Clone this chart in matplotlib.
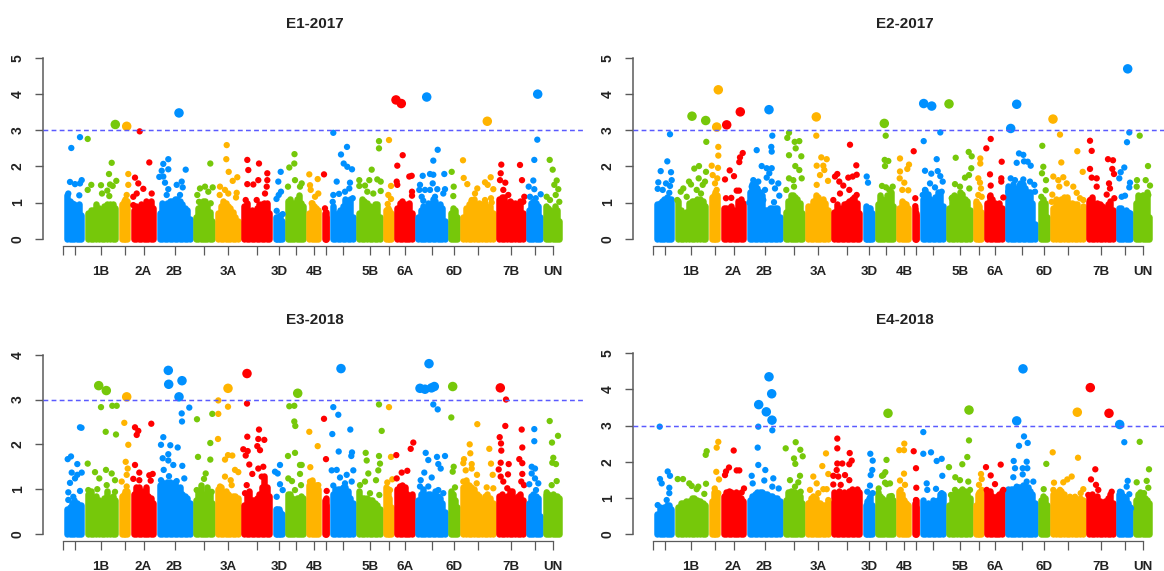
import numpy as np
import matplotlib
matplotlib.use("Agg")
import matplotlib.pyplot as plt

plt.rcParams['font.family'] = ['Liberation Sans', 'DejaVu Sans']

W, H = 1164, 571
COLORS = ['#0090FF', '#76C80A', '#FFB400', '#FF0000']

CHROM_EDGES = [64, 84.5, 118.5, 130.5, 156.5, 193, 215, 241, 272.5, 285, 306, 321.5,
               329.5, 356, 383, 394, 415, 448, 460, 496, 526, 543, 562]
TICK_POS = [62.5, 74.5, 101, 125, 143.5, 174.5, 204, 228, 257, 279, 295.5, 314, 325.5,
            342.5, 370, 389, 405, 432, 454, 478, 511, 535, 552.7]
TICK_LABELS = ['', '', '1B', '', '2A', '2B', '', '3A', '', '3D', '', '4B', '',
               '', '5B', '', '6A', '', '6D', '', '7B', '', 'UN']

E1_profile = [
    [1.2, 1.05, 1.0, 0.95, 0.85, 0.95, 0.65],
    [0.7, 0.8, 0.8, 0.95, 0.85, 0.8, 0.9, 0.95, 0.95, 0.95, 0.85],
    [0.95, 1.05, 1.1, 1.05],
    [0.8, 0.9, 0.8, 0.95, 0.9, 1.05, 0.9, 1.05, 0.85],
    [0.7, 1.0, 0.9, 1.0, 1.05, 1.05, 1.1, 1.1, 1.05, 0.95, 0.85, 0.8, 0.55],
    [0.6, 0.85, 1.0, 1.05, 1.05, 0.9, 0.75, 0.5],
    [0.7, 0.9, 1.05, 1.0, 0.9, 0.85, 0.75, 0.6, 0.5],
    [0.9, 1.0, 0.75, 0.8, 0.75, 0.85, 0.95, 0.95, 1.0, 1.0, 0.7],
    [0.6, 0.6, 0.6, 0.65, 0.5],
    [1.05, 1.1, 1.0, 1.0, 1.1, 1.2, 1.0, 0.9],
    [0.7, 1.0, 0.9, 0.85, 0.8],
    [0.7, 0.75, 0.6],
    [0.9, 0.65, 0.7, 0.8, 0.9, 1.1, 1.0, 1.1, 0.6],
    [0.7, 1.1, 1.05, 1.0, 0.9, 0.85, 0.95, 0.95, 0.6],
    [0.8, 0.85, 0.8, 0.7],
    [0.85, 1.0, 1.05, 0.95, 0.9, 1.0, 0.7],
    [0.6, 0.8, 0.9, 0.85, 1.0, 0.95, 1.1, 1.05, 0.9, 0.95, 0.85, 0.5],
    [0.7, 0.85, 0.8, 0.6],
    [0.6, 0.85, 0.95, 1.05, 1.1, 0.9, 1.0, 0.95, 1.0, 0.85, 0.9, 0.7],
    [1.1, 1.15, 1.15, 1.0, 1.05, 1.0, 1.0, 0.95, 1.05, 0.7],
    [0.8, 1.0, 1.05, 1.0, 0.9, 0.6],
    [0.9, 0.85, 0.8, 0.75, 0.9, 0.8, 0.5],
]
E2_profile = [
    [0.95, 1.0, 1.05, 1.1, 1.15, 1.1, 1.1],
    [1.05, 0.8, 0.7, 0.75, 1.0, 1.05, 1.05, 1.1, 1.1, 1.05, 0.9],
    [1.15, 1.2, 1.3, 1.2],
    [0.85, 0.85, 0.85, 0.9, 0.8, 0.75, 1.05, 1.1, 1.0],
    [1.3, 1.5, 1.5, 1.4, 1.3, 1.2, 0.8, 0.8, 0.85, 0.85, 0.85, 0.85, 0.6],
    [0.75, 1.05, 1.2, 1.2, 1.15, 1.1, 1.0, 0.7],
    [0.9, 0.9, 1.05, 1.2, 1.15, 1.05, 1.1, 1.0, 0.8],
    [0.75, 0.95, 0.85, 0.85, 0.95, 1.0, 1.05, 1.1, 1.15, 1.0, 0.7],
    [0.9, 0.85, 0.85, 0.85, 0.7],
    [0.95, 1.2, 1.1, 1.0, 1.2, 1.15, 1.3, 0.9],
    [0.85, 1.05, 1.0, 0.95, 0.85],
    [0.85, 0.7, 0.65],
    [1.1, 1.35, 1.25, 1.1, 1.0, 1.15, 1.3, 1.25, 0.9],
    [0.85, 1.15, 1.2, 1.15, 1.3, 1.25, 1.1, 1.05, 0.8],
    [1.05, 0.95, 0.9, 0.75],
    [1.0, 1.2, 1.1, 1.0, 0.9, 1.0, 0.85],
    [1.45, 1.35, 1.5, 1.4, 1.4, 1.55, 1.5, 1.4, 1.3, 1.3, 1.0, 0.4],
    [1.0, 1.1, 1.0, 0.6],
    [0.85, 1.1, 1.0, 1.1, 1.15, 1.15, 1.0, 1.0, 0.95, 0.95, 0.75, 0.9],
    [1.05, 1.15, 0.95, 1.0, 0.95, 0.9, 0.85, 0.95, 1.05, 0.8],
    [0.85, 0.85, 0.75, 0.8, 0.75, 0.7],
    [1.0, 1.2, 1.1, 1.2, 1.1, 1.3, 0.6],
]
E3_profile = [
    [0.55, 0.6, 0.7, 0.75, 0.7, 0.65, 0.65],
    [0.9, 0.95, 0.75, 0.85, 0.75, 0.7, 0.8, 0.95, 0.8, 0.85, 0.75],
    [0.85, 0.9, 0.95, 0.95],
    [0.9, 1.05, 1.05, 0.95, 0.95, 1.05, 0.85, 0.8, 0.7],
    [1.1, 1.15, 1.1, 1.15, 1.15, 1.1, 1.15, 1.05, 1.05, 0.9, 0.85, 0.8, 0.7],
    [0.75, 0.95, 1.1, 0.9, 0.85, 1.05, 0.9, 0.7],
    [1.0, 1.05, 0.8, 0.95, 0.9, 0.85, 0.85, 0.85, 0.8],
    [0.65, 0.85, 0.95, 0.75, 0.75, 0.8, 0.9, 1.05, 1.3, 1.05, 0.85],
    [0.55, 0.55, 0.55, 0.5, 0.45],
    [0.9, 0.9, 0.8, 0.7, 0.8, 0.8, 0.85, 0.8],
    [1.1, 1.2, 1.05, 1.1, 1.0],
    [0.75, 0.8, 0.65],
    [0.9, 1.0, 1.0, 1.0, 1.05, 1.05, 0.95, 0.8, 0.7],
    [0.95, 0.8, 0.8, 0.8, 0.75, 0.75, 0.7, 0.65, 0.55],
    [1.05, 1.0, 0.8, 0.6],
    [1.0, 1.05, 1.1, 1.05, 0.9, 0.85, 0.9],
    [0.75, 0.9, 1.0, 0.85, 0.9, 0.9, 0.85, 0.95, 0.85, 0.8, 0.7, 0.5],
    [0.95, 0.9, 0.75, 0.6],
    [1.05, 1.2, 1.1, 1.05, 1.0, 0.9, 0.85, 0.75, 0.85, 0.9, 0.8, 0.7],
    [0.85, 0.9, 0.75, 0.85, 0.95, 0.95, 0.8, 0.85, 0.9, 0.75],
    [0.7, 0.85, 0.9, 0.85, 0.8, 0.4],
    [0.9, 0.9, 0.85, 0.9, 0.85, 0.85, 0.8],
]
E4_profile = [
    [0.55, 0.75, 0.7, 0.75, 0.8, 0.8, 0.7],
    [0.75, 0.85, 0.85, 0.9, 0.9, 1.0, 1.0, 0.95, 0.9, 0.85, 0.8],
    [0.9, 1.15, 1.2, 1.1],
    [1.05, 1.15, 1.2, 1.15, 1.1, 1.15, 1.1, 1.0, 0.9],
    [0.95, 1.05, 1.1, 1.15, 1.15, 1.15, 1.1, 1.1, 1.05, 1.05, 1.0, 1.0, 0.9],
    [0.95, 1.15, 1.2, 1.15, 1.15, 1.1, 1.05, 0.85],
    [0.85, 1.0, 1.05, 1.0, 0.85, 0.85, 0.8, 0.8, 0.9],
    [1.15, 1.1, 1.2, 1.1, 1.15, 1.1, 1.2, 1.25, 1.2, 1.25, 1.15],
    [0.8, 0.9, 1.0, 1.05, 0.8],
    [1.15, 1.05, 1.0, 0.95, 0.95, 1.05, 1.05, 0.95],
    [1.2, 1.1, 0.95, 0.85, 0.8],
    [0.85, 0.95, 0.75],
    [0.95, 0.8, 0.85, 0.8, 0.95, 0.9, 0.95, 1.1, 1.1],
    [0.8, 1.05, 1.1, 1.15, 1.2, 1.25, 1.2, 1.15, 1.0],
    [0.8, 1.1, 1.15, 1.2],
    [1.2, 1.2, 1.05, 1.0, 1.05, 1.1, 1.2],
    [1.25, 1.25, 1.25, 1.25, 1.3, 1.3, 1.35, 1.35, 1.3, 1.2, 1.1, 0.85],
    [0.95, 1.05, 1.0, 0.8],
    [1.1, 1.15, 1.1, 1.2, 1.1, 0.9, 0.9, 1.0, 1.0, 0.9, 1.0, 0.95],
    [1.05, 1.1, 1.0, 1.05, 0.9, 0.85, 0.9, 1.0, 1.1, 0.85],
    [1.1, 1.15, 1.05, 1.0, 0.85, 0.75],
    [0.95, 1.1, 1.15, 1.05, 1.0, 0.95, 0.85],
]

E1_points = [
    (71.3,2.51),(80,2.81),(70,1.57),(75,1.51),(80,1.53),(81.7,1.62),(79.3,1.2),(68.3,1.25),
    (87.7,2.76),(87.7,1.35),(91.3,1.49),(101,1.48),(102,1.25),(107.3,1.33),(109.3,1.18),(109,1.79),
    (111.7,2.1),(110,1.5),(112.7,1.46),(116.3,1.6),(115.3,3.16),
    (126.7,3.11),(128.3,1.79),(128.3,1.49),(126.7,1.21),
    (139.7,2.97),(149.3,2.11),(135,1.69),(138.3,1.53),(143.3,1.38),(136.7,1.25),(133.3,1.16),(151.7,1.25),(133.3,.93),
    (179,3.48),(168.3,2.2),(163.3,2.07),(168.3,1.92),(161.7,1.88),(159.3,1.71),(163.3,1.72),(165,1.55),(168.3,1.37),
    (166.7,1.21),(176.7,1.49),(181.7,1.58),(182.7,1.42),(185.7,1.91),(180,1.21),
    (210.3,2.08),(200,1.39),(205,1.44),(212.7,1.42),(208.3,1.3),(197.3,1.21),(199,1.02),(210.7,.98),
    (226.7,2.59),(226.3,2.2),(228.7,1.85),(237.3,1.7),(232.7,1.6),(220,1.44),(225,1.35),(219.7,1.21),(228.3,1.25),(236.7,1.27),(236,1.14),
    (247.3,2.18),(248.3,1.9),(259,2.08),(267.3,1.81),(247.3,1.51),(253.3,1.5),(258.3,1.62),(267.3,1.62),(266.7,1.44),(265,1.25),(256.7,1.07),(245.7,1.07),
    (280.7,1.85),(278.3,1.58),(278.7,1.21),(276.5,1.1),(281,1.3),(276.7,.77),(282.7,.68),
    (294.5,2.34),(294.3,2.08),(289.3,1.97),(295,1.62),(288,1.44),(301.7,1.53),(300,1.44),
    (309.3,1.78),(310,1.48),(310.7,1.35),(317.7,1.65),(318.3,1.25),(315,1.16),(311.7,.98),
    (324,1.78),(325,.84),
    (333.3,2.93),(347,2.54),(341,2.33),(343.7,2.08),(347.3,1.99),(352,1.92),(336.7,1.58),(350,1.55),(349.3,1.39),(333.3,1.21),(339,1.24),(345,1.3),(352.7,1.12),(332.7,1.02),
    (379,2.7),(379,2.5),(371.7,1.91),(359.3,1.62),(369.3,1.62),(377.3,1.64),(380.7,1.58),(359.3,1.46),(365,1.47),(367.3,1.3),(380.7,1.32),(373.3,1.25),
    (389,2.73),(391,1.46),(388.3,1.21),(391,1.1),(387.7,.96),
    (396,3.84),(401.3,3.74),(402.7,2.31),(397.3,2.02),(409.3,1.72),(411.7,1.74),(396.7,1.58),(397.3,1.49),(412,1.3),(412,1.19),
    (426.7,3.92),(437.7,2.46),(433.3,2.16),(444.3,1.79),(422.7,1.74),(430,1.79),(433.3,1.77),(432.7,1.53),(420,1.49),(419.3,1.35),(425,1.35),(421.7,1.16),(423.3,1.05),
    (430,1.35),(437.3,1.37),(445,1.37),(443.3,1.25),(435,1.16),
    (451.7,1.85),(453.7,1.44),(453.3,1.18),
    (487.3,3.25),(463,2.17),(463.7,1.68),(467.3,1.51),(490.7,1.7),(485,1.56),(487.7,1.49),(493.3,1.37),(477.3,1.39),(475,1.25),(471.7,1.07),(485,1.07),(491,1.12),(491.7,1.0),
    (501.3,2.05),(520,2.04),(522,1.62),(500.7,1.81),(500,1.62),(505.3,1.55),(503.3,1.35),(508.3,1.21),(524.3,1.16),(523.3,1.02),
    (537.7,4.0),(537.3,2.74),(534.3,2.18),(533.3,1.61),(528.7,1.44),(534.3,1.37),(540.7,1.23),(530,1.16),(535.7,1.12),
    (549.7,2.18),(552.7,1.91),(556.7,1.61),(554.3,1.49),(558.3,1.37),(555.7,1.21),(546.7,1.16),(559.3,1.02),(550,1.07),
]
E2_points = [
    (80,2.89),(77.3,2.14),(70.7,1.87),(81,1.84),(81.7,1.62),(68.3,1.56),(76,1.53),(67.7,1.38),(80,1.46),(72.7,1.35),(79.3,1.27),
    (102,3.39),(115.7,3.27),(116.3,2.68),(109,2.01),(104.3,1.94),(116,1.85),(99,1.58),(101,1.5),(108.7,1.67),(115,1.58),(112.7,1.49),(93.3,1.39),(90.7,1.3),(106.7,1.35),(111,1.25),(96.7,1.16),(87.3,1.07),
    (128.3,4.12),(126.7,3.09),(128.3,2.54),(128.3,2.3),(121.7,2.02),(128,1.96),(122.7,1.76),(127.3,1.67),(125,1.53),(126.7,1.35),(125,1.16),
    (136.7,3.15),(150.3,3.51),(152.7,2.37),(150,2.25),(149.3,2.12),(139.7,1.89),(135,1.64),(144,1.73),(146.7,1.33),(149,1.33),(136,1.12),(141.3,1.13),
    (179,3.57),(182.3,2.85),(181.3,2.54),(181.7,2.41),(166.7,2.45),(171.7,2.01),(176.7,1.95),(181.7,1.95),(179.3,1.81),(176.7,1.69),(163.3,1.62),(168.3,1.58),(181.7,1.58),(188.3,1.53),(175,1.35),(185,1.39),(189.3,1.19),(173.3,1.07),(184,1.01),(161.7,1.44),(163.3,1.25),(159.3,1.0),
    (199,2.93),(197.3,2.79),(209.3,2.7),(204.7,2.68),(205.7,2.5),(199,2.31),(211.3,2.28),(205.3,2.01),(209.3,1.9),(199,1.67),(211.7,1.67),(203.3,1.62),(196.3,1.35),(204,1.44),
    (226.3,3.37),(226.3,2.85),(231.3,2.25),(236.7,2.2),(226.7,2.02),(233.3,2.02),(234.3,1.9),(230,1.76),(238,1.6),(226.7,1.49),
    (260,2.6),(266.3,2.03),(247.3,1.79),(245,1.72),(258.3,1.69),(262.7,1.72),(266.7,1.77),(249.3,1.58),(253.3,1.47),(259.3,1.35),(250,1.25),(243.3,1.07),(266.7,1.21),
    (276.7,1.72),(278,1.55),
    (294.3,3.19),(295.7,2.85),(294.7,2.18),(295,2.01),(298.3,2.15),(292,1.46),(296,1.42),(302.7,1.44),(299.3,1.35),
    (310,2.22),(319,2.05),(317.3,1.93),(310,1.86),(309.7,1.67),(314.3,1.55),(312.3,1.35),(318.3,1.34),
    (323.7,2.42),(325.3,1.12),(325.3,.9),
    (333.7,3.74),(341.7,3.67),(350.3,2.94),(333.7,2.7),(346.7,2.2),(335,1.88),(341.3,1.8),(347.7,1.87),(350.3,1.73),(352.7,1.58),(340,1.53),(345,1.42),(351.7,1.3),(335,1.35),(332.7,1.21),
    (359,3.73),(365.7,2.24),(378.7,2.4),(381.7,2.28),(381.3,1.95),(379,1.76),(375,1.69),(365,1.51),(379.3,1.39),(370,1.44),(361.7,1.12),
    (390.3,2.22),(390.3,2.08),(388.3,1.67),(390,1.55),(391,1.39),(388.3,1.21),(391.7,1.16),(386.7,.98),
    (400.7,2.76),(396.3,2.5),(411.7,2.13),(400,1.78),(411.3,1.67),(411.3,1.58),(400.7,1.47),(400,1.16),(413.3,1.14),
    (426.7,3.72),(420.7,3.05),(429,2.36),(433.3,2.32),(426.7,2.1),(434,2.14),(437.7,2.13),(440.7,2.02),(420.7,1.67),(425,1.62),(433.3,1.64),(440,1.58),(444.3,1.49),(430,1.49),(418.3,1.3),(435,1.35),(445,1.3),
    (452.3,2.57),(453.3,1.99),(452,1.81),(456,1.62),(455.7,1.34),(451.3,1.16),
    (463,3.31),(470,2.88),(487.3,2.42),(471.3,2.11),(492.7,1.85),(463.3,1.72),(468.3,1.62),(473.3,1.7),(476.7,1.53),(469.3,1.44),(483.3,1.44),(462.3,1.22),(486.7,1.27),(461.7,1.02),(490,1.12),(493.3,1.07),
    (500,2.71),(501.7,2.43),(518,2.2),(523,2.17),(500,1.93),(522.3,1.93),(524,1.79),(501.7,1.69),(506.7,1.67),(519,1.53),(506.7,1.44),(520,1.39),(516.7,1.22),(500,1.07),(524.3,1.12),
    (537.7,4.7),(539.3,2.94),(537,2.67),(534.3,1.97),(530.7,1.84),(529.3,1.67),(540,1.55),(539.3,1.42),(535,1.19),(531.7,1.16),
    (549.7,2.85),(558,2.01),(547,1.62),(555.7,1.62),(560,1.47),(546.7,1.44),(552.7,1.19),(558.3,1.21),
]
E3_points = [
    (77.3,1.56),(80,2.38),(81.5,2.37),(67.7,1.67),(71,1.73),(71.7,1.37),(81.7,1.37),(77.3,1.32),(70,1.14),(80,.96),(68.3,.93),(68.3,.76),(73.3,.83),(75,1.24),
    (98.7,3.31),(106.3,3.2),(101,2.83),(112.3,2.86),(116.7,2.86),(105.7,2.28),(116,2.22),(87.7,1.57),(95,1.38),(106,1.43),(111.7,1.35),(115,1.2),(99.3,1.24),(106.7,1.09),(115,.94),(88.3,.98),(97.3,1.0),
    (126.7,3.06),(124.3,2.48),(128.3,1.99),(125.7,1.61),(127.7,1.46),(121.7,1.17),(126.7,1.32),(126.7,1.06),
    (135,2.38),(138.3,2.3),(136.7,2.21),(151.3,2.46),(135,1.54),(139.3,1.37),(133.3,1.23),(139.3,1.2),(149.3,1.31),(152.7,1.34),(150.7,1.19),
    (168.3,3.65),(168.7,3.34),(182,3.42),(179,3.06),(189.3,2.82),(181.7,2.69),(182,2.51),(163.3,2.16),(161,1.99),(170.3,1.98),(177.7,1.93),(168.3,1.78),(162.7,1.69),(168.3,1.64),(173.3,1.54),(182.3,1.52),(163.7,1.43),(169,1.29),(184.3,1.24),(161,1.2),(176.7,1.18),
    (197,2.56),(212.3,2.68),(210.3,2.03),(198,1.72),(210.3,1.66),(205.7,1.35),(204,1.23),(196.7,.98),(211.7,.94),
    (228,3.25),(218.3,2.98),(228,2.84),(218.3,2.68),(218,2.12),(228,1.76),(232.3,1.75),(225,1.66),(235,1.43),(238.3,1.38),(225,1.28),(230.7,1.2),(220,1.06),(231.7,1.09),
    (247,3.58),(247,2.91),(259,2.33),(247.3,2.17),(258.3,2.12),(264.3,2.1),(257.3,1.96),(260,1.87),(243.3,1.89),(247.7,1.85),(245.7,1.75),(249.3,1.55),(258.3,1.46),(263.3,1.5),(252.3,1.34),(261.7,1.28),(246.7,1.09),(245,.91),
    (280,1.54),(275,1.39),(277.7,1.35),(280,1.11),(282.7,.98),(276.7,.83),
    (297.7,3.14),(289.3,2.85),(294.3,2.86),(294.3,2.51),(295.3,2.41),(288,1.74),(295,1.81),(288.3,1.24),(292,1.18),(295,.98),(300,1.54),(300,1.34),(301.7,1.54),(301,1.09),
    (309.3,2.28),(317.7,1.96),(310.3,1.49),(310,1.17),(318.3,1.09),
    (324,2.57),(326,1.67),(326.7,.96),
    (341,3.69),(333.3,2.83),(338.3,2.66),(332.3,2.23),(350.3,2.33),(338.7,1.84),(352,1.82),(351.3,1.74),(331.7,1.42),(336.7,1.43),(353.3,1.42),(340,1.26),(346.7,1.32),(351.7,1.17),(333.3,1.08),(345,1.13),
    (379,2.89),(381.7,2.3),(365.7,1.81),(366.7,1.64),(379,1.74),(380,1.57),(378.3,1.42),(368.3,1.35),(376,1.2),(365,1.17),(360,1.09),(370,.91),(379.3,.87),
    (389,2.83),(391,1.72),(387.3,1.15),(392.3,1.22),(390,.98),
    (396.3,1.76),(413.3,2.04),(410.7,1.9),(407.3,1.41),(401.7,1.37),(396.7,1.24),(405,1.02),(400,1.06),
    (429,3.8),(420,3.25),(425,3.23),(434.3,3.29),(431.5,3.26),(433.3,2.89),(437.7,2.78),(425.7,1.81),(428.3,1.65),(437,1.72),(445,1.74),(438.3,1.56),(440.7,1.46),(424.3,1.37),(420.7,1.2),(431.7,1.26),(420,1.06),(428.3,1.06),(438.3,.98),(443.3,.91),
    (452.7,3.29),(451.3,2.6),(453.7,1.5),(452.7,1.39),(455,1.04),
    (477.3,2.45),(469.7,2.0),(470.3,1.8),(489.3,1.9),(491,1.57),(464,1.67),(463.3,1.58),(471.7,1.56),(471.7,1.46),(465.7,1.42),(492.7,1.32),(477,1.32),(463.3,1.17),(476.7,1.13),(486.7,1.04),(493.3,1.02),
    (500.3,3.26),(506,3.0),(505.3,2.41),(521.7,2.33),(499.7,2.16),(501,2.02),(522.3,1.93),(501.3,1.86),(519.3,1.67),(522.3,1.58),(500.7,1.59),(508.7,1.56),(498.7,1.44),(508,1.33),(522.3,1.34),(500.7,1.28),(521.3,1.17),(503.3,1.17),(507.3,1.02),(524,1.09),
    (534.3,2.34),(534.3,2.07),(531.7,1.5),(535,1.46),(531.7,1.35),(535,1.24),(538.3,1.13),(529.3,1.11),(536,.98),
    (549.7,2.52),(558,2.19),(552,2.04),(553.3,1.7),(552.3,1.59),(556,1.56),(556.7,1.18),(551.7,1.09),(546.7,.93),
]
E4_points = [
    (69.7,2.97),(77.7,1.73),(80,1.61),(70,1.52),(71.7,1.4),(79.3,1.28),(79.3,1.13),(76.7,.94),(67.7,.8),
    (87.7,1.52),(93,1.52),(99.3,1.4),(101.7,1.33),(108.3,1.31),(116,1.39),(106.7,1.24),(114.3,1.11),(116.7,2.29),(115.7,2.19),
    (128.3,2.55),(126.7,2.39),(126.3,1.72),(129,1.51),(124.7,1.26),(128.3,1.13),
    (143.7,2.31),(139,1.84),(136,1.73),(135,1.63),(146.7,1.76),(149.3,1.76),(154,1.26),(151.7,1.15),
    (179,4.35),(181.7,3.88),(168.7,3.58),(176.3,3.38),(182,3.15),(168.3,2.97),(182.3,2.87),(167.7,2.39),(168.3,1.91),(175.3,1.77),(161.7,1.61),(183.3,1.54),(174.3,1.48),(182.3,1.31),(162.7,1.4),(188.7,1.26),
    (205.7,2.54),(195.7,2.37),(210.3,2.33),(212.7,2.15),(204,2.09),(205.3,1.94),(200,1.49),(210,1.61),(208.3,1.43),(205,1.31),(210.7,1.17),
    (236,2.23),(232.3,1.88),(238.3,1.66),(223.3,1.59),(226.7,1.4),(220,1.22),(233.3,1.24),(236.7,1.24),(228.3,1.13),(219.3,.85),(238.3,.94),
    (247.3,2.64),(247.3,2.37),(259.7,2.24),(261.7,2.03),(259.3,1.93),(247.3,1.95),(252.3,1.95),(246.7,1.77),(243.3,1.61),(255,1.63),(248.3,1.59),(259.3,1.49),(243.3,1.37),(250.7,1.36),
    (280.3,2.22),(282.7,2.03),(282.3,1.77),(280.7,1.63),(280,1.34),(277.3,1.17),(282.7,1.13),
    (298,3.34),(296.5,2.05),(295.3,1.71),(292,1.61),(296.7,1.38),(288.7,1.26),(293.3,1.63),(295,1.42),(300,1.4),(301.7,1.05),
    (314.3,2.5),(309.3,2.32),(314,2.32),(314,1.67),(310,1.48),(315,1.36),(310.7,1.22),
    (323.7,2.29),(326,1.82),(326.3,1.28),(326,.94),
    (333.3,2.82),(333.3,2.22),(341,2.26),(346.7,2.02),(351.7,2.08),(352.3,1.61),(336.7,1.4),(337.3,1.22),(346,1.25),(351.7,1.13),
    (379,3.43),(379,2.59),(377.3,2.13),(372.3,1.93),(359,1.85),(365.3,1.57),(370,1.49),(378.3,1.45),(365,1.22),(380,1.22),(361,1.08),
    (391,1.66),(391.7,1.52),(389,1.36),(391.7,1.22),(390,.99),
    (396,1.85),(410.7,1.92),(400.7,1.62),(405,1.38),(396.7,1.22),(413.3,1.22),
    (433,4.57),(426.7,3.13),(434,2.7),(429,2.44),(437.7,2.52),(423.7,2.02),(436.7,2.0),(425,1.82),(432.7,1.82),(437.3,1.82),(432.7,1.65),(423.3,1.57),(436.7,1.45),(443.3,1.45),(426.7,1.31),
    (456.3,1.94),(453.7,1.24),
    (487.3,3.37),(462.7,2.26),(488,2.11),(481.7,1.59),(477.3,1.51),(464,1.42),(473.3,1.43),(463.3,1.22),(470,1.22),(493.3,1.24),(490.7,1.13),(480,1.03),(485,1.03),
    (500.3,4.05),(519,3.34),(505.3,1.79),(501,1.51),(506,1.36),(508.3,1.22),(521.7,1.17),(498.3,1.08),
    (529.7,3.03),(534.3,2.54),(537.7,1.47),(536.7,1.31),(530,1.17),(539.3,1.1),(534,1.03),(541,.71),
    (549.7,2.55),(559,1.79),(546.7,1.43),(556.7,1.47),(558.3,1.28),(554,1.13),
]

PANELS = [
    ('E1-2017', E1_profile, E1_points, 0, 246.0, 238.7, 58.0, 5, 24),
    ('E2-2017', E2_profile, E2_points, 590, 246.0, 238.7, 58.0, 5, 24),
    ('E3-2018', E3_profile, E3_points, 0, 541.3, 534.0, 354.7, 4, 320),
    ('E4-2018', E4_profile, E4_points, 590, 541.3, 534.0, 353.3, 5, 320),
]

PT = 72 / 100  # points per pixel at dpi 100
fig = plt.figure(figsize=(W / 100, H / 100), dpi=100, facecolor='white')

X0, X1 = 43.0, 583.0
AXC = '#5a5a5a'
for title, profile, points, off, axis_y, zero_y, top_y, ymax, title_y in PANELS:
    ax = fig.add_axes([(X0 + off) / W, 1 - axis_y / H, (X1 - X0) / W, (axis_y - top_y) / H])
    ax.set_xlim(X0, X1)
    ax.set_ylim(-(axis_y - zero_y) * ymax / (zero_y - top_y), ymax)
    ax.patch.set_alpha(0)

    for i, tops in enumerate(profile):
        xs = np.linspace(CHROM_EDGES[i] + 3.25, CHROM_EDGES[i + 1] - 3.25, len(tops))
        ax.vlines(xs, 0, tops, colors=COLORS[i % 4], linewidth=6.5 * PT, capstyle='round', zorder=2)

    px = np.array([p[0] for p in points])
    py = np.array([p[1] for p in points])
    idx = np.clip(np.searchsorted(CHROM_EDGES, px) - 1, 0, 21)
    cols = [COLORS[j % 4] for j in idx]
    sizes = np.where(py > 3.02, (9.5 * PT) ** 2, (6.3 * PT) ** 2)
    ax.scatter(px, py, s=sizes, c=cols, linewidths=0, zorder=3, clip_on=False)

    ax.axhline(3, color='#5a5aff', lw=1.25 * PT * 1.2, dashes=(3.2, 2.2), zorder=4)

    for s in ('top', 'right'):
        ax.spines[s].set_visible(False)
    ax.spines['left'].set_bounds(0, ymax)
    ax.spines['left'].set_color(AXC)
    ax.spines['left'].set_linewidth(1.1)
    ax.spines['bottom'].set_bounds(TICK_POS[0], TICK_POS[-1])
    ax.spines['bottom'].set_color(AXC)
    ax.spines['bottom'].set_linewidth(0.9)

    ax.set_yticks(range(ymax + 1))
    ax.set_yticklabels([str(v) for v in range(ymax + 1)], rotation=90, va='center',
                       fontweight='bold', fontsize=10, color='#222222')
    ax.tick_params(axis='y', length=8.3 * PT, width=1.0, color=AXC, pad=7.2)
    ax.set_xticks(TICK_POS)
    ax.set_xticklabels(TICK_LABELS, fontweight='bold', fontsize=9.6, color='#222222')
    ax.tick_params(axis='x', length=8.5 * PT, width=0.9, color=AXC, pad=8.3)

    fig.text((315 + off) / W, 1 - title_y / H, title, ha='center', va='center',
             fontweight='bold', fontsize=11, color='#222222')

fig.savefig('out.png', dpi=100)
